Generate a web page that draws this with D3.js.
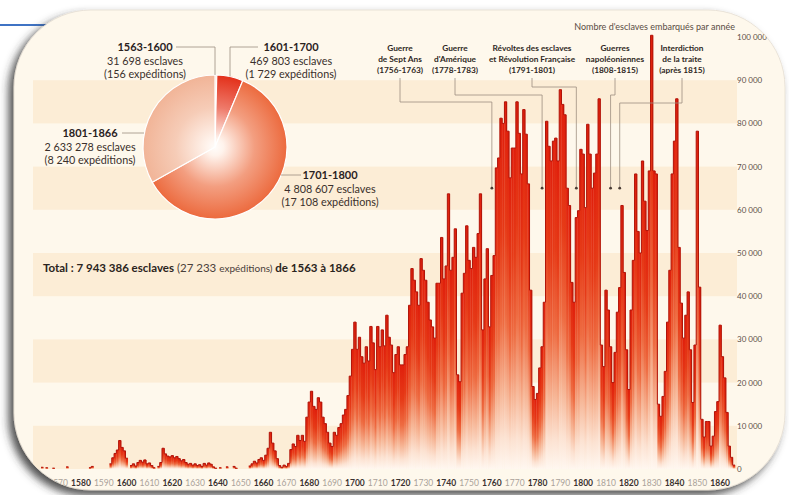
<!DOCTYPE html>
<html>
<head>
<meta charset="utf-8">
<script src="https://cdn.jsdelivr.net/npm/d3@7"></script>
<style>
  html, body { margin: 0; padding: 0; background: #fff; }
  svg { display: block; font-family: Lato, "Open Sans", sans-serif; }
</style>
</head>
<body>
<svg id="chart" width="789" height="495"></svg>
<script>
// ---- data ----
const firstYear = 1563, lastYear = 1866;

// slaves embarked per year
const slaves1563 = [ // 1563-1600
  400, 0, 300, 0, 0, 200, 0,
  0, 0, 0, 0, 500, 0, 0, 0, 0, 0,
  0, 0, 0, 0, 300, 600, 0, 0, 0, 0,
  0, 0, 0, 1200, 2600, 3600, 4400, 6600, 5000, 4200,
  2500
];
const slaves1601 = [ // 1601-1700
  0, 800, 1200, 700, 1500, 2000, 1600, 2100, 1200, 1400,
  800, 300, 0, 600, 1500, 4800, 3500, 3000, 2800, 3100,
  2600, 2900, 2400, 1900, 2200, 1500, 1100, 1300, 900, 1200,
  800, 1000, 600, 1300, 900, 1400, 1100, 500, 200, 0,
  300, 0, 0, 500, 0, 0, 600, 200, 0, 0,
  0, 0, 0, 700, 1200, 1800, 1400, 2200, 2600, 2000,
  3200, 4800, 8500, 6000, 4200, 2400, 800, 400, 900, 600,
  1300, 4500, 5800, 5200, 7800, 6600, 7800, 6400, 12000, 15500,
  18000, 14500, 13800, 16500, 15500, 12000, 10500, 8500, 6000, 5200,
  8500, 7800, 9600, 10500, 12500, 13800, 17000, 21500, 27700, 34000
];
const slaves1701 = [ // 1701-1800
  27700, 30500, 26000, 24500, 28300, 25000, 33000, 29200, 23000, 33000,
  28300, 32200, 28500, 35600, 30500, 28700, 22300, 26500, 28300, 24100,
  24100, 26500, 28300, 37900, 46400, 43700, 41000, 37900, 48700, 46000,
  43700, 38600, 34500, 32900, 30300, 43000, 43000, 53600, 44000, 47000,
  63700, 46000, 49000, 55600, 21800, 20200, 40700, 45300, 56300, 48300,
  46400, 51300, 49000, 54500, 63700, 32200, 44000, 51000, 32900, 44800,
  49400, 69700, 72000, 81200, 80000, 85000, 78200, 67400, 74300, 74300,
  85000, 77700, 68300, 83200, 77500, 66000, 41400, 19100, 16100, 17500,
  23400, 28300, 38600, 80500, 74700, 71300, 75900, 76600, 71300, 87800,
  84400, 82000, 65000, 61000, 43200, 38600, 58200, 59800, 74000, 72900
];
const slaves1801 = [ // 1801-1866
  60500, 79800, 72900, 65000, 68500, 72900, 85700, 28700, 23700, 41400,
  36800, 28300, 20000, 27000, 36300, 42000, 61000, 45500, 27600, 18400,
  36800, 48300, 68300, 55000, 50000, 71300, 62000, 55200, 69000, 100400,
  69000, 68300, 15000, 12200, 16800, 22600, 34000, 46000, 68300, 75900,
  85700, 51300, 38400, 30300, 35600, 41000, 27600, 15400, 28700, 78200,
  42100, 11500, 7400, 11000, 11000, 5300, 7600, 13300, 15600, 33300,
  26000, 21100, 13100, 5300, 2700, 900
];

// pie: totals per period
const periods = ["1563-1600", "1601-1700", "1701-1800", "1801-1866"];
const periodSlaves = [31698, 469803, 4808607, 2633278];
const periodVoyages = [156, 1729, 17108, 8240];
const periodColors = ["#f1b497", "#e3301a", "#ec6a3e", "#f1b497"];

// axes
const yTicks = d3.range(0, 100001, 10000);
const decades = d3.range(1570, 1861, 10);

// historical events
const eventLines = [
  ["Guerre", "de Sept Ans", "(1756-1763)"],
  ["Guerre", "d'Amérique", "(1778-1783)"],
  ["Révoltes des esclaves", "et Révolution Française", "(1791-1801)"],
  ["Guerres", "napoléoniennes", "(1808-1815)"],
  ["Interdiction", "de la traite", "(après 1815)"]
];
const eventYears = [1760, 1782, 1797, 1812, 1816];

// ---- layout ----
const svg = d3.select("#chart");
const defs = svg.append("defs");
const fmt = d3.formatLocale({ decimal: ",", thousands: " ", grouping: [3], currency: ["", ""] }).format(",");

const card = { x: 14, y: 10, w: 771, h: 480, r: 77 };

const shadow = defs.append("filter").attr("id", "shadow")
  .attr("x", "-5%").attr("y", "-5%").attr("width", "110%").attr("height", "112%");
shadow.append("feDropShadow")
  .attr("dx", -5).attr("dy", 5).attr("stdDeviation", 4)
  .attr("flood-color", "#333").attr("flood-opacity", 0.85);

defs.append("clipPath").attr("id", "cardClip").append("rect")
  .attr("x", card.x).attr("y", card.y).attr("width", card.w).attr("height", card.h)
  .attr("rx", card.r);

// blue rule behind the card
svg.append("line")
  .attr("x1", 0).attr("x2", 70).attr("y1", 25).attr("y2", 25)
  .attr("stroke", "#3f73c4").attr("stroke-width", 2);

svg.append("rect")
  .attr("x", card.x).attr("y", card.y).attr("width", card.w).attr("height", card.h)
  .attr("rx", card.r)
  .attr("fill", "#fef8ec").attr("stroke", "#e4ddd2").attr("stroke-width", 0.8)
  .attr("filter", "url(#shadow)");

const g = svg.append("g").attr("clip-path", "url(#cardClip)");

// scales
const years = d3.range(firstYear, lastYear + 1);
const slaves = [].concat(slaves1563, slaves1601, slaves1701, slaves1801);
const data = years.map((yr, i) => ({ year: yr, v: slaves[i] }));

const x = d3.scaleBand().domain(years).range([41, 735]).padding(0);
const y = d3.scaleLinear().domain([0, 100000]).range([469, 37]);

// alternating bands
g.selectAll("rect.band")
  .data(yTicks.filter(t => t % 20000 === 10000))
  .join("rect")
  .attr("class", "band")
  .attr("x", 33).attr("width", 704)
  .attr("y", d => y(d)).attr("height", d => y(d - 10000) - y(d))
  .attr("fill", "#fcedd6");

// bars: red at the top, fading out towards the base
const barGrad = defs.append("linearGradient").attr("id", "barGrad")
  .attr("x1", 0).attr("y1", 0).attr("x2", 0).attr("y2", 1);
[[0, "#e01f0c"], [0.33, "#e63a17"], [0.58, "#ee6c42"], [0.78, "#f6b595"], [0.91, "#fce2d2"], [1, "#fff7f0"]]
  .forEach(s => barGrad.append("stop").attr("offset", s[0]).attr("stop-color", s[1]));

g.append("g").selectAll("rect")
  .data(data.filter(d => d.v > 0))
  .join("rect")
  .attr("x", d => x(d.year))
  .attr("width", x.bandwidth() + 0.3)
  .attr("y", d => y(d.v))
  .attr("height", d => y(0) - y(d.v))
  .attr("fill", "url(#barGrad)");

// dark step outline along the bar tops
const step = d3.path();
let prev = 0;
data.forEach(d => {
  const x0 = x(d.year), x1 = x0 + x.bandwidth(), yy = y(d.v);
  if (d.v > 0) {
    if (prev > 0) step.lineTo(x0, yy); else step.moveTo(x0, yy);
    step.lineTo(x1, yy);
  }
  prev = d.v;
});
g.append("path").attr("d", step.toString())
  .attr("fill", "none").attr("stroke", "#b01309").attr("stroke-width", 1);

// y axis (right)
const yAxis = g.append("g").attr("transform", "translate(737,0)")
  .call(d3.axisRight(y).tickValues(yTicks).tickSize(0).tickPadding(0).tickFormat(fmt));
yAxis.select(".domain").remove();
yAxis.selectAll("text")
  .attr("font-family", "Lato, sans-serif").attr("font-size", 8).attr("fill", "#5e5048");

// x axis (decades)
const xAxis = g.append("g").attr("transform", "translate(0,480)")
  .call(d3.axisBottom(x).tickValues(decades).tickSize(0).tickPadding(0));
xAxis.select(".domain").remove();
xAxis.selectAll("text")
  .attr("font-family", "Lato, sans-serif").attr("font-size", 8.5)
  .attr("font-weight", d => d % 20 === 0 ? "bold" : "normal")
  .attr("fill", d => d % 20 === 0 ? "#3a3230" : "#aaa29a");

// header of the value axis
g.append("text")
  .attr("x", 735).attr("y", 30).attr("text-anchor", "end")
  .attr("font-size", 9).attr("fill", "#5a4c44")
  .text("Nombre d'esclaves embarqués par année");

// event annotations
const eventLayout = [
  { cx: 400, elbow: 102 },
  { cx: 455, elbow: 95 },
  { cx: 532, elbow: 87 },
  { cx: 615, elbow: 95 },
  { cx: 682, elbow: 103 }
];
const dotY = y(65000);
eventLines.forEach((lines, i) => {
  const L = eventLayout[i];
  const tx = x(eventYears[i]) + x.bandwidth() / 2;
  const t = g.append("text").attr("text-anchor", "middle")
    .attr("font-size", 8.3).attr("font-weight", "bold").attr("fill", "#2f2824");
  lines.forEach((s, k) => t.append("tspan").attr("x", L.cx).attr("y", 51 + k * 11).text(s));
  g.append("path")
    .attr("d", d3.line()([[L.cx, 78], [L.cx, L.elbow], [tx, L.elbow], [tx, dotY]]))
    .attr("fill", "none").attr("stroke", "#9d8e80").attr("stroke-width", 0.8);
  g.append("circle").attr("cx", tx).attr("cy", dotY).attr("r", 1.4).attr("fill", "#4a3c34");
});

// total line
const total = g.append("text").attr("x", 43).attr("y", 272)
  .attr("font-size", 11.5).attr("fill", "#2b2420");
total.append("tspan").attr("font-weight", "bold")
  .text("Total : " + fmt(d3.sum(periodSlaves)) + " esclaves");
total.append("tspan").attr("fill", "#4a403a").text(" (" + fmt(d3.sum(periodVoyages)) + " ");
total.append("tspan").attr("fill", "#4a403a").attr("font-size", 10).text("expéditions)");
total.append("tspan").attr("font-weight", "bold").text(" de " + firstYear + " à " + lastYear);

// pie
const pieC = { x: 215, y: 147, r: 72 };
const pg = g.append("g").attr("transform", `translate(${pieC.x},${pieC.y})`);
periodColors.forEach((c, i) => {
  const rg = defs.append("radialGradient").attr("id", "pg" + i)
    .attr("gradientUnits", "userSpaceOnUse").attr("cx", 0).attr("cy", 0).attr("r", pieC.r);
  rg.append("stop").attr("offset", 0).attr("stop-color", "#fffdfb");
  rg.append("stop").attr("offset", 0.12).attr("stop-color", "#fff3ec");
  rg.append("stop").attr("offset", 0.55).attr("stop-color", d3.interpolateRgb("#fff3ec", c)(0.62));
  rg.append("stop").attr("offset", 1).attr("stop-color", c);
});
const arcs = d3.pie().sort(null).value(d => d)(periodSlaves);
pg.selectAll("path").data(arcs).join("path")
  .attr("d", d3.arc().innerRadius(0).outerRadius(pieC.r))
  .attr("fill", (d, i) => `url(#pg${i})`)
  .attr("stroke", "#fff").attr("stroke-width", 1.2);

const pieLabels = [
  { dx: -70, dy: -96, leader: [[-39, -100], [0, -100], [0, -72]] },
  { dx: 76, dy: -96, leader: [[43, -100], [15, -100], [15, -70.5]] },
  { dx: 115, dy: 32, leader: [[66, 28], [86, 28]] },
  { dx: -125, dy: -10, leader: [[-93, -14], [-71, -14]] }
];
pieLabels.forEach((L, i) => {
  pg.append("path").attr("d", d3.line()(L.leader))
    .attr("fill", "none").attr("stroke", "#9d8e80").attr("stroke-width", 0.8);
  const t = pg.append("text").attr("text-anchor", "middle").attr("fill", "#3a302b");
  t.append("tspan").attr("x", L.dx).attr("y", L.dy)
    .attr("font-size", 11).attr("font-weight", "bold").attr("fill", "#2a221e").text(periods[i]);
  t.append("tspan").attr("x", L.dx).attr("y", L.dy + 13.5)
    .attr("font-size", 10.8).text(fmt(periodSlaves[i]) + " esclaves");
  t.append("tspan").attr("x", L.dx).attr("y", L.dy + 27)
    .attr("font-size", 10.8).text("(" + fmt(periodVoyages[i]) + " expéditions)");
});
</script>
</body>
</html>
